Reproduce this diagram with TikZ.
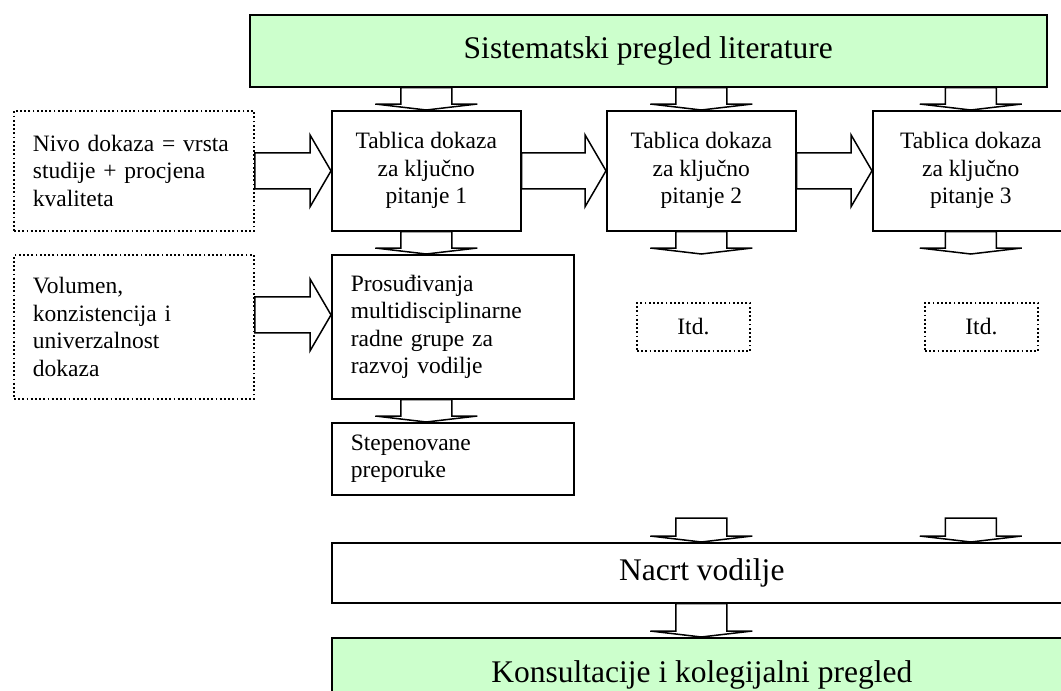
\documentclass[tikz,border=0pt]{standalone}
\usepackage{fontspec}
\setmainfont{Liberation Serif}
\usepackage{tikz}
\usetikzlibrary{calc}
\definecolor{Mint}{HTML}{CCFFCC}
\newcommand{\boxfont}{\fontsize{23.5}{27.5}\selectfont}
\newcommand{\titlefont}{\fontsize{31.5}{36}\selectfont}
\newcommand{\downblock}[2]{%
  \draw[blockarrow] let \p1=(#1), \p2=(#2) in
    (\x1-25.5,\y1) -- (\x1-25.5,\y2+6) -- (\x1-51,\y2+6) -- (\x1,\y2)
    -- (\x1+51,\y2+6) -- (\x1+25.5,\y2+6) -- (\x1+25.5,\y1) -- cycle;}
\newcommand{\rightblock}[2]{%
  \draw[blockarrow] let \p1=(#1), \p2=(#2) in
    (\x1,\y1+18) -- (\x2-21,\y1+18) -- (\x2-21,\y1+36) -- (\x2,\y1)
    -- (\x2-21,\y1-36) -- (\x2-21,\y1-18) -- (\x1,\y1-18) -- cycle;}

\begin{document}
\begin{tikzpicture}[x=1pt,y=-1pt,
  box/.style={draw,line width=1.6pt,anchor=north west,inner sep=0pt,align=center,font=\boxfont},
  dotbox/.style={box,line width=1.8pt,dash pattern=on 1.8pt off 2.4pt},
  leftbox/.style={align=left,inner xsep=19pt},
  greenbox/.style={box,fill=Mint,font=\titlefont},
  blockarrow/.style={draw,line width=1.5pt,line join=miter}]
  \useasboundingbox (0,0) rectangle (1061,691);
  \clip (0,0) rectangle (1061,691);

  \node[greenbox,minimum width=797pt,minimum height=72pt] (sys) at (249,14) {Sistematski pregled literature};
  \node[dotbox,leftbox,text width=202pt,minimum height=120pt] (d1) at (13,110) {Nivo dokaza = vrsta\\studije + procjena\\kvaliteta};
  \node[box,minimum width=189pt,minimum height=120pt] (t1) at (331,110) {Tablica dokaza\\za ključno\\pitanje 1};
  \node[box,minimum width=189pt,minimum height=120pt] (t2) at (606,110) {Tablica dokaza\\za ključno\\pitanje 2};
  \node[box,minimum width=196pt,minimum height=120pt] (t3) at (872,110) {Tablica dokaza\\za ključno\\pitanje 3};
  \node[dotbox,leftbox,text width=202pt,minimum height=144pt] (d2) at (13,254) {Volumen,\\konzistencija i\\univerzalnost\\dokaza};
  \node[box,leftbox,text width=204pt,minimum height=144pt] (p) at (331,254) {Prosuđivanja\\multidisciplinarne\\radne grupe za\\razvoj vodilje};
  \node[box,leftbox,text width=204pt,minimum height=72pt] (s) at (331,422) {Stepenovane\\preporuke};
  \node[dotbox,minimum width=113pt,minimum height=48pt] (e2) at (636,302) {Itd.};
  \node[dotbox,minimum width=113pt,minimum height=48pt] (e3) at (924,302) {Itd.};
  \node[box,font=\titlefont,minimum width=740pt,minimum height=60pt] (draft) at (331,542) {Nacrt vodilje};
  \node[greenbox,minimum width=740pt,minimum height=74pt] (cons) at (331,637) {Konsultacije i kolegijalni pregled};

  \coordinate (e2end) at (t2.south |- p.north);
  \coordinate (e3end) at (t3.south |- p.north);
  \coordinate (in2) at (t2.south |- 0,518);
  \coordinate (in3) at (t3.south |- 0,518);

  \downblock{sys.south -| t1.south}{t1.north}
  \downblock{sys.south -| t2.south}{t2.north}
  \downblock{sys.south -| t3.south}{t3.north}
  \rightblock{d1.east}{t1.west}
  \rightblock{t1.east}{t2.west}
  \rightblock{t2.east}{t3.west}
  \downblock{t1.south}{p.north}
  \downblock{t2.south}{e2end}
  \downblock{t3.south}{e3end}
  \rightblock{$(d2.east)+(0,-12)$}{p.west}
  \downblock{p.south -| t1.south}{s.north}
  \downblock{in2}{draft.north}
  \downblock{in3}{draft.north}
  \downblock{draft.south -| t2.south}{cons.north}
\end{tikzpicture}
\end{document}
